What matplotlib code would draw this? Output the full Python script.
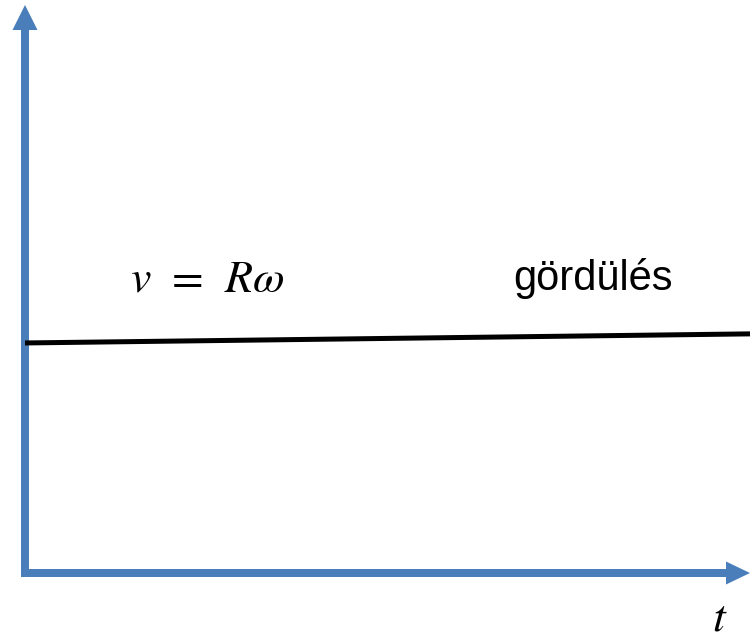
import matplotlib
matplotlib.use('Agg')
import matplotlib.pyplot as plt
from matplotlib.patches import FancyArrow

# v(t) for rolling: nearly constant, slight rise
t_vals = [0.0, 10.0]
v_vals = [4.05, 4.21]

axis_color = '#4a7ebb'
plt.rcParams['mathtext.fontset'] = 'stix'

px_x = 72.5  # pixels per x unit
px_y = 56.8  # pixels per y unit

fig = plt.figure(figsize=(7.55, 6.43), dpi=100)
ax = fig.add_axes([0, 0, 1, 1])
ax.set_xlim(-25 / px_x, 730 / px_x)
ax.set_ylim(-70 / px_y, 573 / px_y)
ax.axis('off')

# axes arrows
ax.add_patch(FancyArrow(0, 0, 0, 10.0, width=8 / px_x, head_width=25 / px_x,
                        head_length=25 / px_y, length_includes_head=True,
                        color=axis_color, lw=0))
ax.add_patch(FancyArrow(-4 / px_x, 0, 10.0 + 4 / px_x, 0, width=8 / px_y,
                        head_width=23 / px_y, head_length=24 / px_x,
                        length_includes_head=True, color=axis_color, lw=0))

# the curve
ax.plot(t_vals, v_vals, color='black', lw=3.6, solid_capstyle='butt')

ax.text(1.45, 4.95, r'$v\;\,=\;\,R\omega$', fontsize=33, ha='left', va='baseline')
ax.text(6.73, 4.98, 'gördülés', fontsize=30, family='Liberation Sans',
        ha='left', va='baseline')
ax.text(9.48, -1.02, r'$t$', fontsize=33, ha='left', va='baseline')

fig.savefig('out.png', dpi=100)
